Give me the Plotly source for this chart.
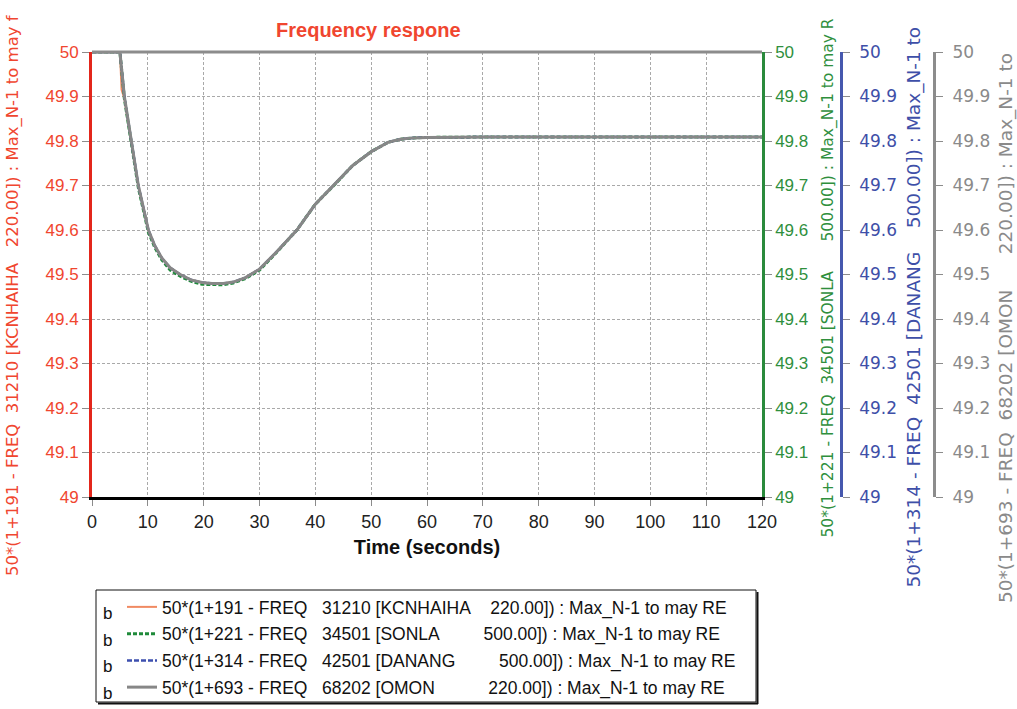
import plotly.graph_objects as go

# ---- data -------------------------------------------------------------
# simulation time (s)
time_s = [0, 5.0, 5.8, 7.0, 8.3, 10.1, 11.2, 12.5, 14.0, 15.8, 17.7, 19.7, 21.5,
          23.5, 25.3, 27.5, 30.0, 33.0, 36.7, 40.0, 43.3, 46.7, 50.0, 53.0, 55.2,
          57.5, 60.0, 65.0, 70.0, 80.0, 90.0, 100.0, 110.0, 120.0]
time_kcnhaiha = [0, 5.0, 5.3, 5.8, 7.0, 8.3, 10.1, 11.2, 12.5, 14.0, 15.8, 17.7,
                 19.7, 21.5, 23.5, 25.3, 27.5, 30.0, 33.0, 36.7, 40.0, 43.3, 46.7,
                 50.0, 53.0, 55.2, 57.5, 60.0, 65.0, 70.0, 80.0, 90.0, 100.0,
                 110.0, 120.0]

# bus frequency (Hz)
freq_kcnhaiha = [50.0, 50.0, 49.915, 49.895, 49.8, 49.7, 49.6, 49.566, 49.537,
                 49.515, 49.5, 49.488, 49.482, 49.48, 49.48, 49.483, 49.493,
                 49.512, 49.55, 49.6, 49.658, 49.7, 49.745, 49.776, 49.797,
                 49.804, 49.807, 49.808, 49.809, 49.809, 49.809, 49.809, 49.809,
                 49.809, 49.809]
freq_sonla = [50.0, 50.0, 49.895, 49.795, 49.695, 49.595, 49.562, 49.533, 49.51,
              49.496, 49.485, 49.478, 49.477, 49.477, 49.481, 49.491, 49.51, 49.549,
              49.6, 49.658, 49.7, 49.745, 49.776, 49.797, 49.804, 49.807, 49.808,
              49.809, 49.809, 49.809, 49.809, 49.809, 49.809, 49.809]
freq_danang = [50.0, 50.0, 49.9, 49.8, 49.7, 49.6, 49.566, 49.537, 49.515, 49.5,
               49.488, 49.482, 49.48, 49.48, 49.483, 49.493, 49.512, 49.55, 49.6,
               49.658, 49.7, 49.745, 49.776, 49.797, 49.804, 49.807, 49.808,
               49.809, 49.809, 49.809, 49.809, 49.809, 49.809, 49.809]
freq_omon = [50.0, 50.0, 49.9, 49.8, 49.7, 49.6, 49.566, 49.537, 49.515, 49.5,
             49.488, 49.482, 49.48, 49.48, 49.483, 49.493, 49.512, 49.55, 49.6,
             49.658, 49.7, 49.745, 49.776, 49.797, 49.804, 49.807, 49.808,
             49.809, 49.809, 49.809, 49.809, 49.809, 49.809, 49.809]

NB = "\u00a0"
series_names = [
    "50*(1+191 - FREQ" + NB * 3 + "31210 [KCNHAIHA" + NB * 4 + "220.00]) : Max_N-1 to may RE",
    "50*(1+221 - FREQ" + NB * 3 + "34501 [SONLA" + NB * 9 + "500.00]) : Max_N-1 to may RE",
    "50*(1+314 - FREQ" + NB * 3 + "42501 [DANANG" + NB * 9 + "500.00]) : Max_N-1 to may RE",
    "50*(1+693 - FREQ" + NB * 3 + "68202 [OMON" + NB * 11 + "220.00]) : Max_N-1 to may RE",
]
axis_titles = [
    "50*(1+191 - FREQ" + NB * 2 + "31210 [KCNHAIHA" + NB * 3 + "220.00]) : Max_N-1 to may f",
    "50*(1+221 - FREQ" + NB * 2 + "34501 [SONLA" + NB * 6 + "500.00]) : Max_N-1 to may R",
    "50*(1+314 - FREQ" + NB * 2 + "42501 [DANANG" + NB * 4 + "500.00]) : Max_N-1 to",
    "50*(1+693 - FREQ" + NB * 2 + "68202 [OMON" + NB * 6 + "220.00]) : Max_N-1 to",
]
y_tick_vals = [49.0, 49.1, 49.2, 49.3, 49.4, 49.5, 49.6, 49.7, 49.8, 49.9, 50.0]
y_tick_text = ["49", "49.1", "49.2", "49.3", "49.4", "49.5", "49.6", "49.7", "49.8", "49.9", "50"]
x_tick_vals = [0, 10, 20, 30, 40, 50, 60, 70, 80, 90, 100, 110, 120]

# ---- geometry (pixels) ----------------------------------------------
W, H = 1017, 709
L, R, T, B = 92, 762, 52, 497          # plot area edges
PW = W - L                               # paper width (margin r = 0)
PH = B - T


def px(x):
    return (x - L) / PW


def py(y):
    return (B - y) / PH


RED, RED_TXT = "#e3261b", "#f0462f"
GREEN, GREEN_TXT = "#2a8a3c", "#2f8f3d"
BLUE, BLUE_TXT = "#4658ae", "#3e4fa8"
GREY, GREY_TXT = "#8c8c8c", "#8a8a8a"
GRID = "#a9a9a9"

fig = go.Figure()
fig.add_trace(go.Scatter(x=time_kcnhaiha, y=freq_kcnhaiha, name=series_names[0], yaxis="y",
                         mode="lines", line=dict(color="#f08a62", width=2), legendgroup="a"))
fig.add_trace(go.Scatter(x=time_s, y=freq_sonla, name=series_names[1], yaxis="y2",
                         mode="lines", line=dict(color="#1f8a3a", width=3, dash="4px,2px"),
                         legendgroup="b"))
fig.add_trace(go.Scatter(x=time_s, y=freq_danang, name=series_names[2], yaxis="y3",
                         mode="lines", line=dict(color="#3d4faf", width=2.5, dash="5px,2px"),
                         legendgroup="c"))
fig.add_trace(go.Scatter(x=time_s, y=freq_omon, name=series_names[3], yaxis="y4",
                         mode="lines", line=dict(color="#878787", width=3), legendgroup="d"))

common_y = dict(range=[49, 50], tickmode="array", tickvals=y_tick_vals, ticktext=y_tick_text,
                ticks="outside", ticklen=7, tickcolor=GREY, zeroline=False, fixedrange=True,
                automargin=False)

fig.update_layout(
    width=W, height=H,
    margin=dict(l=L, r=0, t=T, b=H - B, pad=0, autoexpand=False),
    paper_bgcolor="white", plot_bgcolor="white",
    font=dict(family="Arial, Liberation Sans, sans-serif", color="black"),
    title=dict(text="<b>Frequency respone</b>", x=px((L + R) / 2), xanchor="center",
               y=1 - 30 / H, yanchor="middle",
               font=dict(family="Arial, Liberation Sans", size=20, color=RED_TXT)),
    xaxis=dict(domain=[0, (R - L) / PW], range=[0, 120], tickvals=x_tick_vals,
               showgrid=True, gridcolor=GRID, griddash="3px,2px", gridwidth=1,
               showline=True, linecolor="black", linewidth=3,
               ticks="outside", ticklen=6, tickcolor=GREY, automargin=False,
               tickfont=dict(size=18, color="#222"), zeroline=False,
               title=dict(text="<b>Time (seconds)</b>", font=dict(size=20, color="#111"),
                          standoff=10)),
    yaxis=dict(**common_y, side="left", showgrid=True, gridcolor=GRID, griddash="3px,2px",
               showline=True, linecolor=RED, linewidth=3,
               tickfont=dict(size=17, color=RED_TXT)),
    yaxis2=dict(**common_y, overlaying="y", side="right", anchor="x", showgrid=False,
                showline=True, linecolor=GREEN, linewidth=2.5,
                tickfont=dict(size=17, color=GREEN_TXT)),
    yaxis3=dict(**common_y, overlaying="y", side="right", anchor="free", position=px(841),
                showgrid=False, showline=True, linecolor=BLUE, linewidth=2.5,
                ticklabelstandoff=6,
                tickfont=dict(family="DejaVu Sans", size=17, color=BLUE_TXT)),
    yaxis4=dict(**common_y, overlaying="y", side="right", anchor="free", position=px(934),
                showgrid=False, showline=True, linecolor=GREY, linewidth=3,
                ticklabelstandoff=6,
                tickfont=dict(family="DejaVu Sans", size=17, color=GREY_TXT)),
    legend=dict(xref="container", yref="container", x=122 / W, xanchor="left",
                y=1 - 589 / H, yanchor="top",
                bgcolor="rgba(0,0,0,0)", borderwidth=0, tracegroupgap=1,
                font=dict(family="Arial, Liberation Sans", size=17.5, color="#111")),
    showlegend=True,
)

# frame line along the top of the plot
fig.add_shape(type="line", xref="paper", yref="paper", x0=0, x1=(R - L) / PW, y0=1, y1=1,
              line=dict(color=GREY, width=3))

# legend box with a drop shadow
fig.add_shape(type="rect", xref="paper", yref="paper", x0=px(96), x1=px(756),
              y0=py(702), y1=py(590), line=dict(color="#111", width=1))
fig.add_shape(type="line", xref="paper", yref="paper", x0=px(757.5), x1=px(757.5),
              y0=py(704), y1=py(592), line=dict(color="#111", width=2))
fig.add_shape(type="line", xref="paper", yref="paper", x0=px(98), x1=px(758),
              y0=py(703.5), y1=py(703.5), line=dict(color="#111", width=2))

# marker glyphs in front of each legend row
for yy in [613, 640, 666, 693]:
    fig.add_annotation(text="b", xref="paper", yref="paper", x=px(107), y=py(yy),
                       xanchor="center", yanchor="middle", showarrow=False,
                       font=dict(family="Arial, Liberation Sans", size=17, color="#111"))

# rotated axis titles
title_specs = [
    (axis_titles[0], 13, 578, RED_TXT, "DejaVu Sans", 16.5),
    (axis_titles[1], 828, 540, GREEN_TXT, "DejaVu Sans", 15.5),
    (axis_titles[2], 913, 590, BLUE_TXT, "DejaVu Sans", 18.5),
    (axis_titles[3], 1006, 605, GREY_TXT, "DejaVu Sans", 18.5),
]
for text, xc, ybot, color, fam, size in title_specs:
    fig.add_annotation(text=text, xref="paper", yref="paper", x=px(xc), y=py(ybot),
                       xanchor="center", yanchor="bottom", textangle=-90, showarrow=False,
                       font=dict(family=fam, size=size, color=color))

fig.write_html("out.html")
